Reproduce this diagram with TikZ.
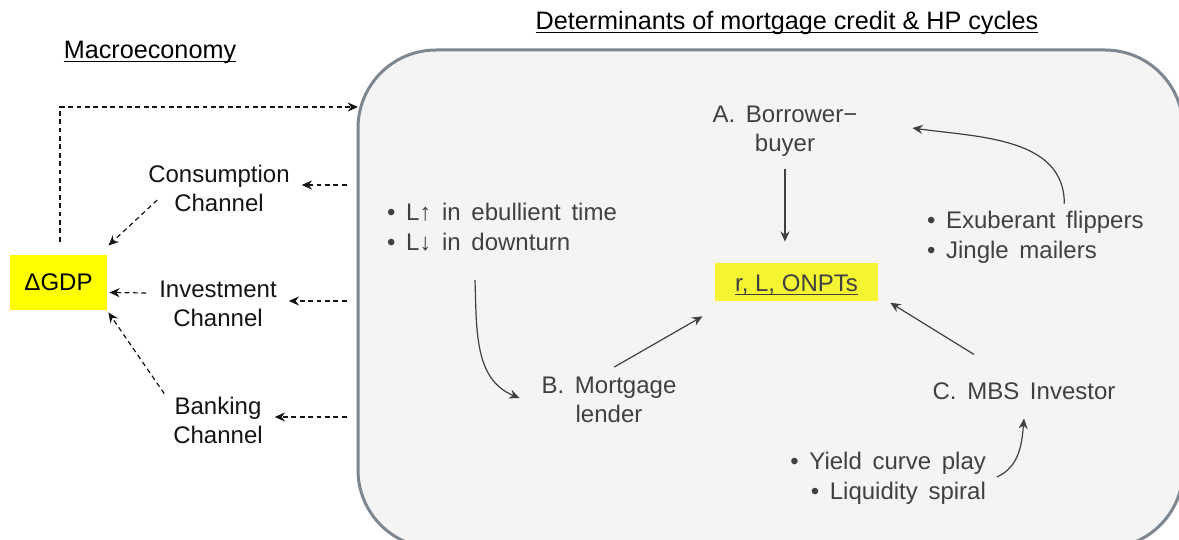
\documentclass[tikz,border=0pt]{standalone}
\usepackage{fontspec}
\setmainfont{Liberation Sans}
\newfontfamily\widefont[WordSpace=1.6]{Liberation Sans}
\usetikzlibrary{arrows.meta,calc}
\definecolor{ink}{RGB}{20,20,20}
\definecolor{softink}{RGB}{64,64,64}
\definecolor{panelfill}{RGB}{244,244,244}
\definecolor{panelrule}{RGB}{124,135,146}
\definecolor{gdpyellow}{RGB}{255,255,0}
\definecolor{rateyellow}{RGB}{244,244,50}
\newcommand{\tightline}[1]{\underline{\smash{#1}}}
\tikzset{
  flow/.style={-{Stealth[length=1.8mm,width=1.6mm]},line width=0.6pt,draw=softink},
  dashflow/.style={-{Stealth[length=1.8mm,width=1.6mm]},line width=0.6pt,draw=ink,dash pattern=on 2.4pt off 1.8pt},
  heading/.style={anchor=base,font=\fontsize{12.6}{15}\selectfont,text=black},
  channel/.style={align=center,font=\fontsize{12}{14.5}\selectfont,text=ink},
  actor/.style={align=center,font=\widefont\fontsize{12}{14.5}\selectfont,text=softink},
  bullets/.style={align=left,font=\widefont\fontsize{12}{15}\selectfont,text=softink},
  panel/.style={draw=panelrule,line width=1.5pt,fill=panelfill,rounded corners=39pt,minimum width=412.5pt,minimum height=249pt},
  gdpbox/.style={fill=gdpyellow,minimum width=48.5pt,minimum height=27.5pt,inner sep=0pt,font=\fontsize{12}{14.5}\selectfont,text=black},
  ratebox/.style={fill=rateyellow,minimum width=81.5pt,minimum height=19pt,inner sep=0pt,font=\fontsize{12}{14.5}\selectfont,text=softink}
}

\begin{document}
\begin{tikzpicture}[x=0.5pt,y=-0.5pt]
  \useasboundingbox (0,0) rectangle (1179,540);
  % panel of determinants
  \node[panel] (det) at (770.5,299) {};
  \node[heading] (macro) at (150,59) {\tightline{Macroeconomy}};
  \node[heading] (dettitle) at (787,30) {\tightline{Determinants of mortgage credit \& HP cycles}};
  % macro side
  \node[gdpbox] (gdp) at (58.5,282.5) {ΔGDP};
  \node[channel] (cons) at (219,188) {Consumption\\Channel};
  \node[channel] (inv) at (218,304) {Investment\\Channel};
  \node[channel] (bank) at (218,420) {Banking\\Channel};
  \coordinate (fbin) at (358,107);
  % actors
  \node[actor] (borrower) at (785,131) {A. Borrower−\\buyer};
  \node[ratebox] (rate) at (796.5,282) {\rule{0pt}{11.6pt}\tightline{r, L, ONPTs}};
  \node[actor] (lender) at (609,400) {B. Mortgage\\lender};
  \node[actor] (investor) at (1024,391) {C. MBS Investor};
  \node[bullets,anchor=west] (lbul) at (380,227) {• L↑ in ebullient time\\• L↓ in downturn};
  \node[bullets,anchor=west] (flip) at (920,237) {• Exuberant flippers\\• Jingle mailers};
  \node[bullets,align=right,anchor=east] (yield) at (993,478) {• Yield curve play\\• Liquidity spiral};
  % channels to GDP
  \draw[dashflow] ($(det.west |- cons.east)+(-10,-3)$) -- ($(cons.east)+(5,-3)$);
  \draw[dashflow] ($(det.west |- inv.east)+(-10,-3)$) -- ($(inv.east)+(5,-3)$);
  \draw[dashflow] ($(det.west |- bank.east)+(-10,-3)$) -- ($(bank.east)+(5,-3)$);
  \draw[dashflow] ($(cons.west)+(16,12)$) -- ($(gdp.north east)+(1,-9)$);
  \draw[dashflow] ($(inv.west)+(-6,-11)$) -- ($(gdp.east)+(2,10)$);
  \draw[dashflow] ($(bank.north west)+(-2,4)$) -- ($(gdp.south east)+(1,2)$);
  \draw[dashflow] ($(gdp.north)+(1.5,-13)$) |- (fbin);
  % inside the panel
  \draw[flow,shorten <=3pt,shorten >=10.5pt] (borrower.south) -- (borrower.south |- rate.north);
  \draw[flow] ($(lbul.south)+(-27,22)$) to[out=-88,in=158] ($(lender.west)+(-15,-2)$);
  \draw[flow,shorten <=3pt,shorten >=7pt] (lender.north) -- ($(rate.south west)+(0,8)$);
  \draw[flow,shorten <=20pt,shorten >=7pt] ($(investor.north)+(-16,0)$) -- ($(rate.south east)+(0,-6)$);
  \draw[flow] ($(flip.north)+(29,0)$) to[out=90,in=-8] ($(borrower.east)+(48,-3)$);
  \draw[flow] ($(yield.east)+(4,-1)$) to[out=25,in=-95] ($(investor.south)+(0,12)$);
\end{tikzpicture}
\end{document}
